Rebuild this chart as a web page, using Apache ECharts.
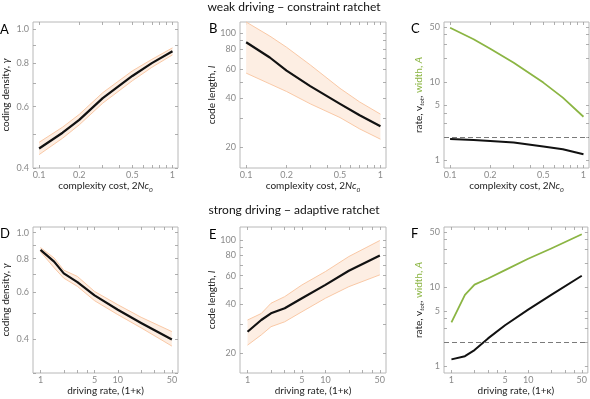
<!DOCTYPE html>
<html>
<head>
<meta charset="utf-8">
<script src="https://cdn.jsdelivr.net/npm/echarts@6/dist/echarts.min.js"></script>
<style>html,body{margin:0;padding:0;background:#fff}#c{width:590px;height:399px}</style>
</head>
<body>
<div id="c"></div>
<script>
// ---- data ----
const costX = [0.1, 0.15, 0.2, 0.3, 0.5, 0.7, 1];
const densityA = [0.455, 0.505, 0.55, 0.635, 0.735, 0.80, 0.865];
const densityALow = [0.437, 0.487, 0.532, 0.614, 0.712, 0.778, 0.845];
const densityAHigh = [0.474, 0.524, 0.570, 0.658, 0.760, 0.820, 0.885];
const lengthB = [88, 71, 59, 47.5, 37, 31.5, 27];
const lengthBLow = [57, 49, 44, 37, 30.5, 26, 22.5];
const lengthBHigh = [117, 96, 82, 64, 46, 38, 32];
const widthC = [49, 35, 26.5, 17.5, 9.8, 6.3, 3.6];
const rateC = [1.87, 1.82, 1.77, 1.69, 1.5, 1.39, 1.2];

const driveX = [1, 1.5, 2, 3, 5, 10, 20, 50];
const densityD = [0.863, 0.78, 0.705, 0.654, 0.584, 0.516, 0.461, 0.40];
const densityDLow = [0.85, 0.74, 0.677, 0.631, 0.558, 0.495, 0.442, 0.378];
const densityDHigh = [0.88, 0.805, 0.725, 0.687, 0.604, 0.539, 0.484, 0.428];
const lengthE = [27, 31.9, 35.1, 37.7, 43.5, 52.6, 64.3, 80];
const lengthELow = [22.3, 25.8, 29, 31.1, 35.9, 43.5, 51.3, 60.7];
const lengthEHigh = [31.9, 35, 40.5, 44.5, 52.6, 63.6, 78.8, 99];
const widthF = [3.6, 8.0, 10.8, 12.9, 16.5, 23, 31, 47];
const rateF = [1.22, 1.34, 1.6, 2.25, 3.3, 5.2, 8.0, 14];
const thresholdRate = 2;

// ---- tick labels ----
const costTicks = [0.1, 0.2, 0.5, 1];
const costMinor = [0.3, 0.4, 0.6, 0.7, 0.8, 0.9];
const driveTicks = [1, 5, 10, 50];
const driveMinor = [2, 3, 4, 20, 30, 40];
const densityTicks = [0.4, 0.6, 0.8, 1.0];
const densityMinor = [0.3, 0.5, 0.7, 0.9];
const lengthTicks = [20, 40, 60, 80, 100];
const lengthMinor = [30, 50, 70, 90];
const rateTicks = [1, 5, 10, 50];
const rateMinor = [2, 3, 4, 20, 30, 40];

const titleTop = 'weak driving \u2212 constraint ratchet';
const titleBottom = 'strong driving \u2212 adaptive ratchet';

// ---- styles ----
const FONT = 'Lato';
const BAND_FILL = '#fdeee3';
const BAND_EDGE = '#f8c39d';
const LINE = '#111111';
const GREEN = '#8bb543';
const TICK = '#9a9a9a';

const rich = {
  n: {fontFamily: FONT, fontSize: 10, color: '#222', lineHeight: 14},
  i: {fontFamily: FONT, fontSize: 10, color: '#222', fontStyle: 'italic', lineHeight: 14},
  s: {fontFamily: FONT, fontSize: 6.5, color: '#222', fontStyle: 'italic', lineHeight: 14, verticalAlign: 'bottom'},
  g: {fontFamily: FONT, fontSize: 10, color: GREEN, lineHeight: 14},
  gi: {fontFamily: FONT, fontSize: 10, color: GREEN, fontStyle: 'italic', lineHeight: 14}
};

const costName = '{n|complexity cost, 2}{i|Nc}{s|0}';
const driveName = '{n|driving rate, (1+\u03ba)}';
const densityName = '{n|coding density, }{i|\u03b3}';
const lengthName = '{n|code length, }{i|l}';
const rateName = '{n|rate, v}{s|tot}{n|, }{g|width, }{gi|A}';

const grids = [], xAxes = [], yAxes = [], series = [];

function fmt(decimals) {
  return function (v) { return decimals ? (+v).toFixed(decimals) : String(+(+v).toPrecision(3)); };
}

function addPanel(cfg) {
  const gi = grids.length;
  grids.push({left: cfg.left, top: cfg.top, width: cfg.width, height: 146,
    show: true, borderColor: '#b8b8b8', borderWidth: 1, backgroundColor: 'transparent'});
  const xi = xAxes.length, yi = yAxes.length;
  const xAll = cfg.xTicks.concat(cfg.xMinor);
  const yAll = cfg.yTicks.concat(cfg.yMinor);
  const tickStyle = {lineStyle: {color: TICK, width: 0.8}};
  xAxes.push({
    type: 'log', logBase: 10, gridIndex: gi, min: cfg.xMin, max: cfg.xMax, position: 'bottom',
    name: cfg.xName, nameLocation: 'middle', nameGap: 11,
    nameTextStyle: {rich: rich, verticalAlign: 'top'},
    axisLine: {show: false}, splitLine: {show: false},
    axisTick: Object.assign({show: true, inside: true, length: 3, customValues: xAll}, tickStyle),
    axisLabel: {show: true, margin: 3, customValues: cfg.xTicks, formatter: fmt(0),
      fontFamily: FONT, fontSize: 9, color: '#8a8a8a'}
  });
  xAxes.push({
    type: 'log', logBase: 10, gridIndex: gi, min: cfg.xMin, max: cfg.xMax, position: 'top',
    axisLine: {show: false}, splitLine: {show: false},
    axisTick: Object.assign({show: true, inside: true, length: 3, customValues: xAll}, tickStyle),
    axisLabel: {show: false}
  });
  yAxes.push({
    type: 'log', logBase: 10, gridIndex: gi, min: cfg.yMin, max: cfg.yMax, position: 'left',
    name: cfg.yName, nameLocation: 'middle', nameGap: cfg.yGap,
    nameTextStyle: {rich: rich},
    axisLine: {show: false}, splitLine: {show: false},
    axisTick: Object.assign({show: true, inside: true, length: 3, customValues: yAll}, tickStyle),
    axisLabel: {show: true, margin: 4, customValues: cfg.yTicks, formatter: fmt(cfg.yDec),
      fontFamily: FONT, fontSize: 9, color: '#8a8a8a'}
  });
  yAxes.push({
    type: 'log', logBase: 10, gridIndex: gi, min: cfg.yMin, max: cfg.yMax, position: 'right',
    axisLine: {show: false}, splitLine: {show: false},
    axisTick: Object.assign({show: true, inside: true, length: 3, customValues: yAll}, tickStyle),
    axisLabel: {show: false}
  });
  if (cfg.low) {
    const xs = cfg.x, lo = cfg.low, hi = cfg.high;
    series.push({
      type: 'custom', xAxisIndex: xi, yAxisIndex: yi, silent: true, z: 1,
      data: [[xs[0], lo[0]]], encode: {x: 0, y: 1},
      renderItem: function (params, api) {
        const upper = xs.map(function (x, k) { return api.coord([x, hi[k]]); });
        const lowerFwd = xs.map(function (x, k) { return api.coord([x, lo[k]]); });
        return {type: 'group', children: [
          {type: 'polygon', shape: {points: upper.concat(lowerFwd.slice().reverse())}, style: {fill: BAND_FILL, stroke: null}},
          {type: 'polyline', shape: {points: upper}, style: {fill: null, stroke: BAND_EDGE, lineWidth: 0.9}},
          {type: 'polyline', shape: {points: lowerFwd}, style: {fill: null, stroke: BAND_EDGE, lineWidth: 0.9}}
        ]};
      }
    });
  }
  (cfg.lines || []).forEach(function (ln) {
    const s = {
      type: 'line', xAxisIndex: xi, yAxisIndex: yi, showSymbol: false, symbol: 'none',
      smooth: false,
      data: cfg.x.map(function (x, k) { return [x, ln.y[k]]; }),
      lineStyle: {color: ln.color, width: ln.width, join: 'round'}, z: 3, silent: true
    };
    if (ln.threshold) {
      s.markLine = {silent: true, symbol: 'none', label: {show: false},
        lineStyle: {color: '#7a7a7a', type: [5, 3], width: 1.1},
        data: [{yAxis: ln.threshold}]};
    }
    series.push(s);
  });
}

const TOP = 22, BOT = 227;
addPanel({left: 31, top: TOP, width: 147, x: costX, xMin: 0.09, xMax: 1.1, xTicks: costTicks, xMinor: costMinor,
  yMin: 0.4, yMax: 1.05, yTicks: densityTicks, yMinor: [0.5, 0.7, 0.9], yDec: 1, xName: costName, yName: densityName, yGap: 20,
  low: densityALow, high: densityAHigh, lines: [{y: densityA, color: LINE, width: 2.2}]});
addPanel({left: 240, top: TOP, width: 146, x: costX, xMin: 0.09, xMax: 1.1, xTicks: costTicks, xMinor: costMinor,
  yMin: 15, yMax: 117, yTicks: lengthTicks, yMinor: lengthMinor, yDec: 0, xName: costName, yName: lengthName, yGap: 20,
  low: lengthBLow, high: lengthBHigh, lines: [{y: lengthB, color: LINE, width: 2.2}]});
addPanel({left: 444, top: TOP, width: 145, x: costX, xMin: 0.09, xMax: 1.1, xTicks: costTicks, xMinor: costMinor,
  yMin: 0.8, yMax: 58, yTicks: rateTicks, yMinor: rateMinor, yDec: 0, xName: costName, yName: rateName, yGap: 18,
  lines: [{y: widthC, color: GREEN, width: 1.8}, {y: rateC, color: LINE, width: 2, threshold: thresholdRate}]});
addPanel({left: 31, top: BOT, width: 147, x: driveX, xMin: 0.8, xMax: 60, xTicks: driveTicks, xMinor: driveMinor,
  yMin: 0.3, yMax: 1.05, yTicks: densityTicks, yMinor: densityMinor, yDec: 1, xName: driveName, yName: densityName, yGap: 20,
  low: densityDLow, high: densityDHigh, lines: [{y: densityD, color: LINE, width: 2.2}]});
addPanel({left: 240, top: BOT, width: 146, x: driveX, xMin: 0.8, xMax: 60, xTicks: driveTicks, xMinor: driveMinor,
  yMin: 15, yMax: 120, yTicks: lengthTicks, yMinor: lengthMinor, yDec: 0, xName: driveName, yName: lengthName, yGap: 20,
  low: lengthELow, high: lengthEHigh, lines: [{y: lengthE, color: LINE, width: 2.2}]});
addPanel({left: 444, top: BOT, width: 145, x: driveX, xMin: 0.8, xMax: 60, xTicks: driveTicks, xMinor: driveMinor,
  yMin: 0.82, yMax: 58, yTicks: rateTicks, yMinor: rateMinor, yDec: 0, xName: driveName, yName: rateName, yGap: 18,
  lines: [{y: widthF, color: GREEN, width: 1.8}, {y: rateF, color: LINE, width: 2, threshold: thresholdRate}]});

function letter(t, x, y) {
  return {type: 'text', x: x, y: y, style: {text: t, font: '13px ' + FONT, fill: '#000', align: 'left', verticalAlign: 'middle'}};
}
function heading(t, y) {
  return {type: 'text', x: 294, y: y, style: {text: t, font: '12px ' + FONT, fill: '#111', align: 'center', verticalAlign: 'middle'}};
}

const chart = echarts.init(document.getElementById('c'), null, {renderer: 'canvas'});
chart.setOption({
  animation: false,
  grid: grids, xAxis: xAxes, yAxis: yAxes, series: series,
  graphic: [
    heading(titleTop, 7), heading(titleBottom, 210),
    letter('A', 0, 30), letter('B', 209, 29), letter('C', 411, 29),
    letter('D', 0, 234), letter('E', 209, 235), letter('F', 411, 234)
  ]
});
</script>
</body>
</html>
